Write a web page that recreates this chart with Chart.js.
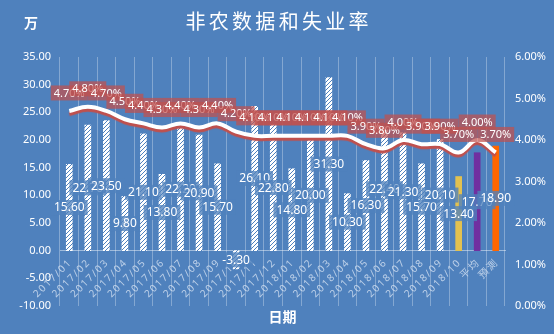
<!DOCTYPE html>
<html>
<head>
<meta charset="utf-8">
<script src="https://cdn.jsdelivr.net/npm/chart.js@4.4.0/dist/chart.umd.min.js"></script>
<style>
  html, body { margin: 0; padding: 0; background: #4f81bd; }
  #wrap { width: 554px; height: 334px; }
</style>
</head>
<body>
<div id="wrap"><canvas id="chart" width="554" height="334"></canvas></div>
<script>
// 日期
const months = [
  '2017/01', '2017/02', '2017/03', '2017/04', '2017/05', '2017/06',
  '2017/07', '2017/08', '2017/09', '2017/10', '2017/11', '2017/12',
  '2018/01', '2018/02', '2018/03', '2018/04', '2018/05', '2018/06',
  '2018/07', '2018/08', '2018/09', '2018/10', '平均', '預測'
];
// 非农 (万)
const payrolls = [
  15.6, 22.7, 23.5, 9.8, 21.1, 13.8, 22.2, 20.9, 15.7, -3.3, 26.1, 22.8,
  14.8, 20.0, 31.3, 10.3, 16.3, 22.4, 21.3, 15.7, 20.1, 13.4, 17.7, 18.9
];
// 失业率 (%)
const unemployment = [
  4.7, 4.8, 4.7, 4.5, 4.4, 4.3, 4.4, 4.3, 4.4, 4.2, 4.1, 4.1,
  4.1, 4.1, 4.1, 4.1, 3.9, 3.8, 4.0, 3.9, 3.9, 3.7, 4.0, 3.7
];
const leftRange = [-10, 35];
const rightRange = [0, 6];

const BG = '#4f81bd';
const FONT = '"Noto Sans", "Noto Sans CJK SC", sans-serif';
Chart.defaults.font.family = FONT;

// 斜线填充 (像素级，避免模糊)
const hatch = (() => {
  const n = 4;
  const c = document.createElement('canvas');
  c.width = n; c.height = n;
  const g = c.getContext('2d');
  for (let x = 0; x < n; x++) {
    for (let y = 0; y < n; y++) {
      g.fillStyle = (x + y) % n === n - 1 ? BG : '#ffffff';
      g.fillRect(x, y, 1, 1);
    }
  }
  return g.createPattern(c, 'repeat');
})();

const barColors = payrolls.map((v, i) => {
  if (i === months.length - 3) return '#e2c150';
  if (i === months.length - 2) return '#7030a0';
  if (i === months.length - 1) return '#ff6600';
  return hatch;
});

function drawBox(ctx, text, x, y, fill, font) {
  ctx.font = font;
  const w = ctx.measureText(text).width + 6;
  const h = 15;
  ctx.fillStyle = fill;
  ctx.fillRect(x - w / 2, y - h / 2, w, h);
  ctx.fillStyle = '#ffffff';
  ctx.textAlign = 'center';
  ctx.textBaseline = 'middle';
  ctx.fillText(text, x, y + 0.5);
}

const decor = {
  id: 'decor',
  beforeDraw(chart) {
    const ctx = chart.ctx;
    ctx.save();
    ctx.fillStyle = BG;
    ctx.fillRect(0, 0, chart.width, chart.height);
    ctx.restore();
  },
  beforeDatasetDraw(chart, args) {
    if (args.meta.type === 'line') {
      const ctx = chart.ctx;
      ctx.save();
      ctx.shadowColor = '#c0504d';
      ctx.shadowOffsetY = 3;
      ctx.shadowOffsetX = 0;
      ctx.shadowBlur = 1;
    }
  },
  afterDatasetDraw(chart, args) {
    if (args.meta.type === 'line') chart.ctx.restore();
  },
  afterDatasetsDraw(chart) {
    const ctx = chart.ctx;
    ctx.save();
    // 柱状标签
    const barMeta = chart.getDatasetMeta(1);
    barMeta.data.forEach((el, i) => {
      const y = (el.y + el.base) / 2;
      drawBox(ctx, payrolls[i].toFixed(2), el.x, y, 'rgba(79,129,189,0.78)', '12px ' + FONT);
    });
    // 失业率标签
    const lineMeta = chart.getDatasetMeta(0);
    lineMeta.data.forEach((el, i) => {
      drawBox(ctx, unemployment[i].toFixed(2) + '%', el.x, el.y - 18, 'rgba(192,80,77,0.72)', '11px ' + FONT);
    });
    ctx.restore();
  },
  afterDraw(chart) {
    const ctx = chart.ctx;
    const area = chart.chartArea;
    ctx.save();
    ctx.fillStyle = '#ffffff';
    ctx.textAlign = 'center';
    ctx.textBaseline = 'middle';
    ctx.font = 'bold 14px ' + FONT;
    ctx.fillText('万', 31, 24);
    ctx.fillText('日期', (area.left + area.right) / 2, 318);
    ctx.restore();
  }
};

new Chart(document.getElementById('chart'), {
  type: 'bar',
  data: {
    labels: months,
    datasets: [
      {
        type: 'line',
        label: '失业率',
        data: unemployment,
        yAxisID: 'y1',
        borderColor: '#ffffff',
        borderWidth: 4,
        tension: 0.4,
        pointRadius: 0,
        fill: false,
        order: 0
      },
      {
        type: 'bar',
        label: '非农',
        data: payrolls,
        yAxisID: 'y',
        backgroundColor: barColors,
        barThickness: 6,
        order: 1
      }
    ]
  },
  options: {
    responsive: false,
    animation: false,
    layout: { padding: { top: 2, bottom: 28, left: 0, right: 0 } },
    plugins: {
      legend: { display: false },
      tooltip: { enabled: false },
      title: {
        display: true,
        text: '非农数据和失业率'.split('').join('\u2009'),
        color: '#ffffff',
        font: { size: 20, weight: 'normal' },
        padding: { top: 9, bottom: 22 }
      }
    },
    scales: {
      x: {
        position: { y: 0 },
        offset: true,
        grid: { display: true, offset: true, color: 'rgba(255,255,255,0.3)', drawTicks: false },
        border: { display: true, color: 'rgba(255,255,255,0.45)' },
        ticks: {
          color: 'rgba(214,226,242,0.8)',
          font: { size: 10 },
          maxRotation: 45,
          minRotation: 45,
          autoSkip: false,
          padding: 7,
          callback: function (v, i) { return months[i].split('').join('\u2009'); }
        }
      },
      y: {
        position: 'left',
        min: leftRange[0],
        max: leftRange[1],
        grid: { display: false, drawTicks: false },
        border: { display: false },
        ticks: {
          stepSize: 5,
          color: '#ffffff',
          font: { size: 11 },
          padding: 9,
          callback: v => v.toFixed(2)
        },
        afterFit: s => { s.width = 60; }
      },
      y1: {
        position: 'right',
        min: rightRange[0],
        max: rightRange[1],
        grid: { display: false, drawTicks: false },
        border: { display: false },
        ticks: {
          stepSize: 1,
          color: '#ffffff',
          font: { size: 11 },
          padding: 10,
          callback: v => v.toFixed(2) + '%'
        },
        afterFit: s => { s.width = 49; }
      }
    }
  },
  plugins: [decor]
});
</script>
</body>
</html>
